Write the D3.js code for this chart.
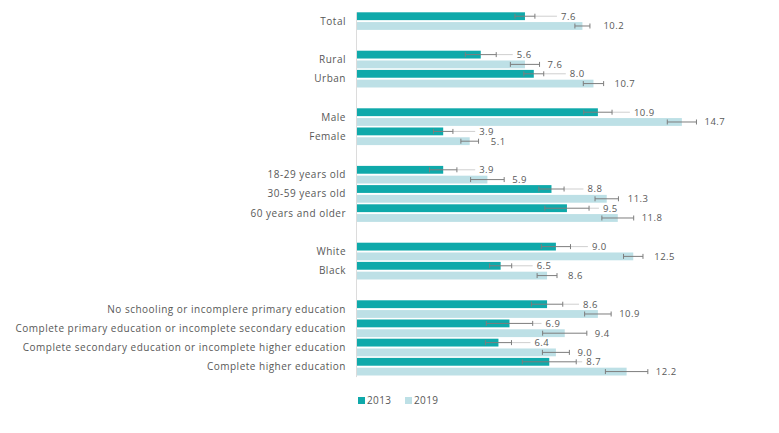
<!DOCTYPE html>
<html>
<head>
<meta charset="utf-8">
<script src="https://cdn.jsdelivr.net/npm/d3@7"></script>
<style>
  body { margin: 0; background: #fff; }
  text { font-family: "Open Sans", sans-serif; fill: #585858; }
</style>
</head>
<body>
<div id="chart"></div>
<script>
// groups of categories, a blank slot is left between groups
var groups = [
  ["Total"],
  ["Rural", "Urban"],
  ["Male", "Female"],
  ["18-29 years old", "30-59 years old", "60 years and older"],
  ["White", "Black"],
  ["No schooling or incomplere primary education",
   "Complete primary education or incomplete secondary education",
   "Complete secondary education or incomplete higher education",
   "Complete higher education"]
];
var years = ["2013", "2019"];
var values2013 = [7.6, 5.6, 8.0, 10.9, 3.9, 3.9, 8.8, 9.5, 9.0, 6.5, 8.6, 6.9, 6.4, 8.7];
var values2019 = [10.2, 7.6, 10.7, 14.7, 5.1, 5.9, 11.3, 11.8, 12.5, 8.6, 10.9, 9.4, 9.0, 12.2];
var err2013 = [0.45, 0.7, 0.45, 0.64, 0.44, 0.62, 0.57, 1.0, 0.66, 0.5, 0.71, 1.05, 0.59, 1.22];
var err2019 = [0.34, 0.66, 0.46, 0.66, 0.4, 0.76, 0.53, 0.72, 0.44, 0.45, 0.6, 1.0, 0.61, 0.96];

var colors = { "2013": "#0fa9aa", "2019": "#bde0e6" };

var w = 779, h = 433;

// build slot list
var slots = [];
var rows = [];
groups.forEach(function(g, gi) {
  if (gi > 0) slots.push("gap" + gi);
  g.forEach(function(c) { slots.push(c); rows.push(c); });
});

var data = rows.map(function(c, i) {
  return {
    cat: c,
    bars: [
      { year: "2013", v: values2013[i], e: err2013[i] },
      { year: "2019", v: values2019[i], e: err2019[i] }
    ]
  };
});

var svg = d3.select("#chart").append("svg")
  .attr("width", w)
  .attr("height", h);

var x = d3.scaleLinear().domain([0, 15]).range([357, 357 + 15 * 22.1]);
var y = d3.scaleBand().domain(slots).range([12.3, 12.3 + slots.length * 19.2]);
var yIn = d3.scaleBand().domain(years).range([0, 17.6]).paddingInner(0.2);

// axis line
svg.append("line")
  .attr("x1", x(0) - 0.5).attr("x2", x(0) - 0.5)
  .attr("y1", y.range()[0]).attr("y2", y.range()[1])
  .style("stroke", "#dcdcdc");

// category labels
svg.selectAll(".cat")
  .data(data)
  .enter().append("text")
  .attr("class", "cat")
  .attr("x", x(0) - 11)
  .attr("y", function(d) { return y(d.cat) + 8.8; })
  .attr("dy", "0.35em")
  .attr("text-anchor", "end")
  .style("font-size", "10px")
  .style("letter-spacing", "0.5px")
  .text(function(d) { return d.cat; });

var rowG = svg.selectAll(".row")
  .data(data)
  .enter().append("g")
  .attr("class", "row")
  .attr("transform", function(d) { return "translate(0," + y(d.cat) + ")"; });

rowG.selectAll("g")
  .data(function(d) { return d.bars; })
  .enter().append("g").each(function(d) {
    var g = d3.select(this);
    var top = yIn(d.year);
    var bh = yIn.bandwidth();
    var cy = top + bh / 2;
    var lo = x(d.v - d.e), hi = x(d.v + d.e);
    var lx = d.year === "2013" ? Math.max(x(d.v) + 36, hi + 10) : Math.max(x(d.v) + 21, hi + 8);

    g.append("rect")
      .attr("x", x(0))
      .attr("y", top)
      .attr("width", x(d.v) - x(0))
      .attr("height", bh)
      .style("fill", colors[d.year]);

    if (d.year === "2013" && lx - 4 > hi) {
      g.append("line")
        .attr("x1", hi).attr("x2", lx - 4)
        .attr("y1", cy).attr("y2", cy)
        .style("stroke", "#cfcfcf");
    }

    g.append("line")
      .attr("x1", lo).attr("x2", hi)
      .attr("y1", cy).attr("y2", cy)
      .style("stroke", "#7d7d7d");
    [lo, hi].forEach(function(px) {
      g.append("line")
        .attr("x1", px).attr("x2", px)
        .attr("y1", cy - 2.5).attr("y2", cy + 2.5)
        .style("stroke", "#7d7d7d");
    });

    g.append("text")
      .attr("x", lx)
      .attr("y", cy)
      .attr("dy", "0.35em")
      .style("font-size", "9.5px")
      .style("letter-spacing", "0.5px")
      .text(d3.format(".1f")(d.v));
  });

// legend
var legend = svg.append("g").attr("class", "legend");
legend.selectAll("g")
  .data(years)
  .enter().append("g").each(function(d, i) {
    var g = d3.select(this);
    g.append("rect")
      .attr("x", 358 + i * 47)
      .attr("y", 397)
      .attr("width", 7)
      .attr("height", 7)
      .style("fill", colors[d]);
    g.append("text")
      .attr("x", 367 + i * 47)
      .attr("y", 400.7)
      .attr("dy", "0.35em")
      .style("font-size", "10px")
      .style("letter-spacing", "0.4px")
      .text(d);
  });
</script>
</body>
</html>
